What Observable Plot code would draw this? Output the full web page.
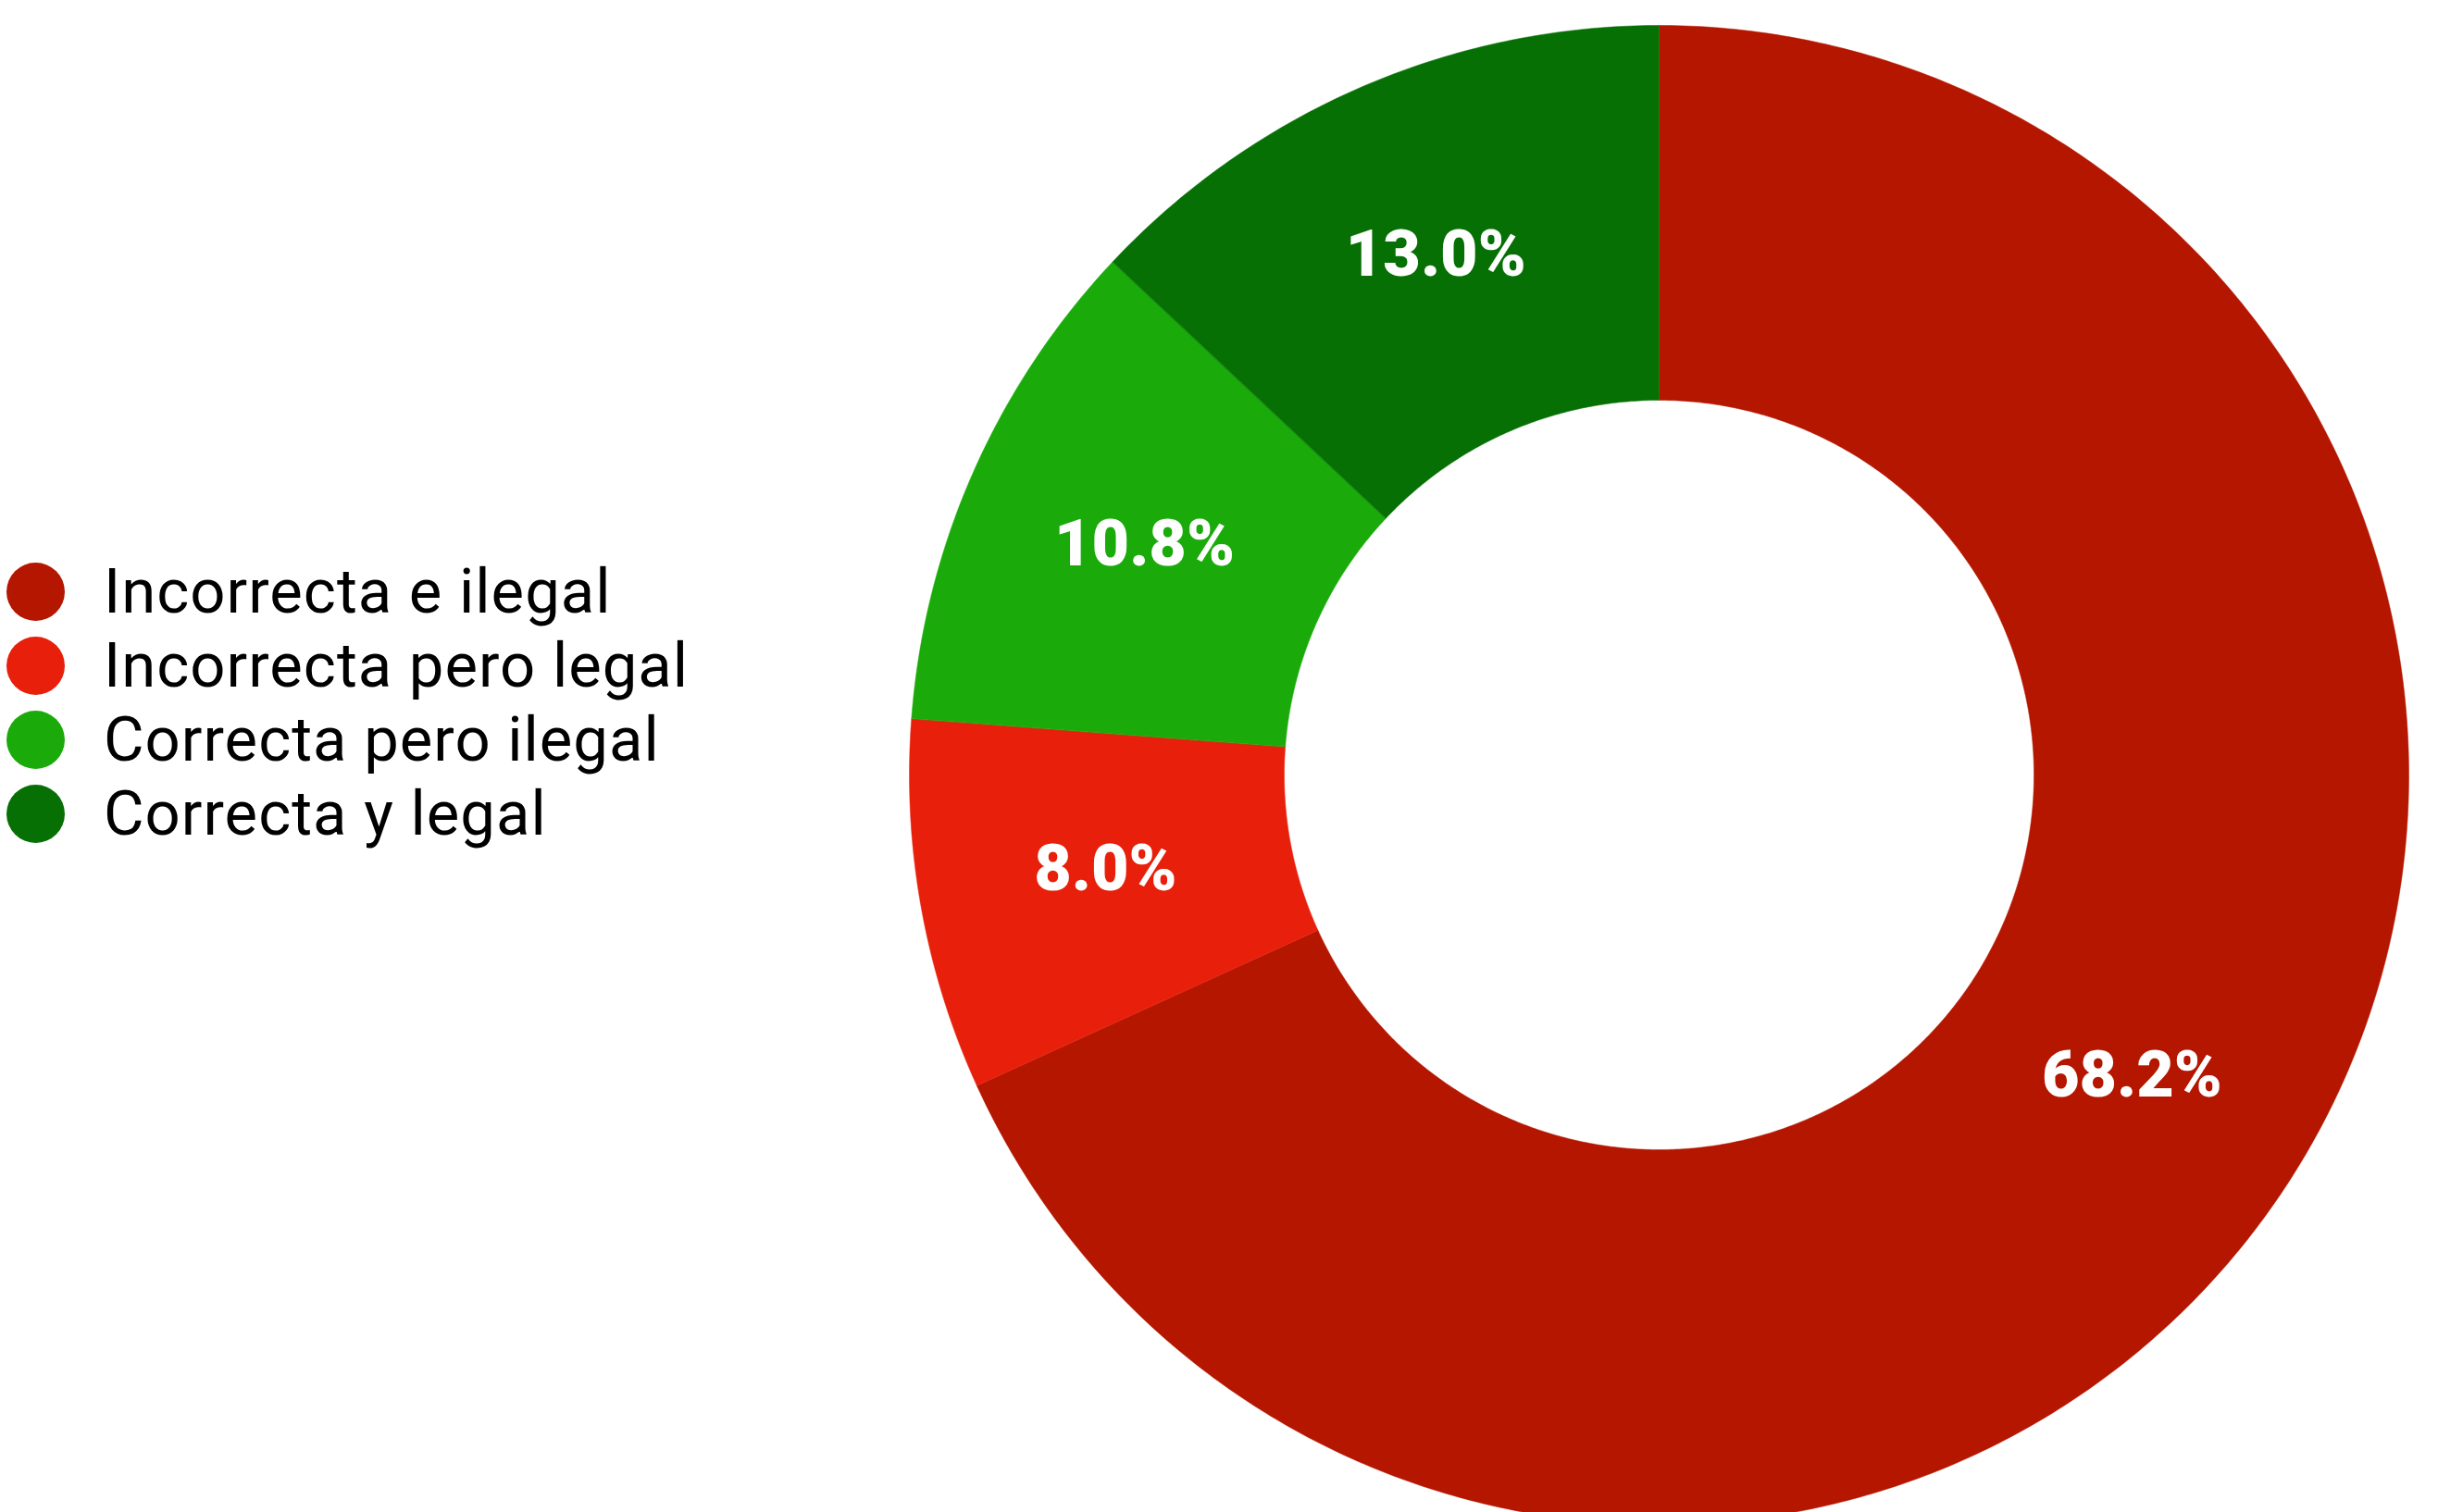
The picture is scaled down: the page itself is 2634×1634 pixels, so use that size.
<!DOCTYPE html>
<html>
<head>
<meta charset="utf-8">
<script src="https://cdn.jsdelivr.net/npm/d3@7"></script>
<script src="https://cdn.jsdelivr.net/npm/@observablehq/plot@0.6"></script>
<style>
  html, body { margin: 0; padding: 0; background: #fff; overflow: hidden; }
  #wrap { position: relative; width: 2634px; height: 1634px; }
  #chart { position: absolute; left: 0; top: 0; }
  #legend { position: absolute; left: 7px; top: 599px; font-family: Roboto, sans-serif; font-size: 67px; letter-spacing: 1px; color: #000; }
  .row { display: flex; align-items: center; height: 80px; }
  .sw { width: 63px; height: 63px; border-radius: 50%; margin-right: 42px; flex: none; }
</style>
</head>
<body>
<div id="wrap">
  <div id="legend"></div>
  <div id="chart"></div>
</div>
<script>
const categories = ["Incorrecta e ilegal", "Incorrecta pero legal", "Correcta pero ilegal", "Correcta y legal"];
const values = [68.2, 8.0, 10.8, 13.0];
const labels = ["68.2%", "8.0%", "10.8%", "13.0%"];
const colors = ["#b41600", "#e8200b", "#1aab0a", "#067005"];

const innerRatio = 0.5;
const data = categories.map((c, i) => ({category: c, value: values[i], label: labels[i]}));
const arcs = d3.pie().sort(null).value(d => d.value)(data);

// polygon outlines for each slice (angles from d3.pie, clockwise from 12 o'clock)
const poly = [];
for (const a of arcs) {
  const n = Math.max(8, Math.ceil((a.endAngle - a.startAngle) * 120));
  for (let k = 0; k <= n; k++) {
    const t = a.startAngle + (a.endAngle - a.startAngle) * k / n;
    poly.push({category: a.data.category, x: Math.sin(t), y: Math.cos(t)});
  }
  for (let k = n; k >= 0; k--) {
    const t = a.startAngle + (a.endAngle - a.startAngle) * k / n;
    poly.push({category: a.data.category, x: innerRatio * Math.sin(t), y: innerRatio * Math.cos(t)});
  }
}
const mid = (1 + innerRatio) / 2;
const centroids = arcs.map(a => {
  const t = (a.startAngle + a.endAngle) / 2;
  return {label: a.data.label, x: mid * Math.sin(t), y: mid * Math.cos(t)};
});

const plot = Plot.plot({
  width: 2634,
  height: 1634,
  margin: 0,
  x: {domain: [-1, 1], range: [982, 2602], axis: null},
  y: {domain: [-1, 1], range: [1647, 27], axis: null},
  color: {domain: categories, range: colors},
  style: {background: "transparent", overflow: "visible"},
  marks: [
    Plot.line(poly, {x: "x", y: "y", z: "category", fill: "category", stroke: "category", strokeWidth: 0.5, curve: "linear-closed"}),
    Plot.text(centroids, {x: "x", y: "y", text: "label", fill: "white", fontSize: 70, fontWeight: 900, fontFamily: "Roboto", dy: -4})
  ]
});
document.getElementById("chart").appendChild(plot);

const legend = document.getElementById("legend");
categories.forEach((c, i) => {
  const row = document.createElement("div");
  row.className = "row";
  const sw = document.createElement("span");
  sw.className = "sw";
  sw.style.background = colors[i];
  const tx = document.createElement("span");
  tx.textContent = c;
  row.appendChild(sw);
  row.appendChild(tx);
  legend.appendChild(row);
});
</script>
</body>
</html>
